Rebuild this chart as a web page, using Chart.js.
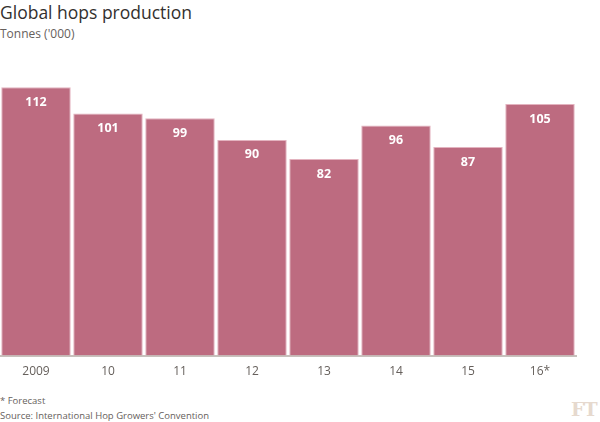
<!DOCTYPE html>
<html>
<head>
<meta charset="utf-8">
<script src="https://cdn.jsdelivr.net/npm/chart.js@4"></script>
<style>
  body { margin: 0; background: #fff; font-family: "Open Sans", sans-serif; }
  #wrap { position: relative; width: 600px; height: 422px; overflow: hidden; }
  #titulo { position: absolute; left: 0; top: 0px; font-size: 17.5px; color: #33302e; }
  #subtitulo { position: absolute; left: 0; top: 25px; font-size: 12px; color: #66605c; }
  #nota { position: absolute; left: 0; top: 394px; font-size: 9.5px; color: #66605c; }
  #fuente { position: absolute; left: 0; top: 409px; font-size: 9.5px; color: #66605c; }
  #logo { position: absolute; left: 571px; top: 398px; font-family: "DejaVu Serif", serif; font-weight: bold; font-size: 19px; color: #e6d9ce; letter-spacing: -1px; }
  #lienzo { position: absolute; left: 0; top: 50px; width: 600px; height: 330px; }
</style>
</head>
<body>
<div id="wrap">
  <div id="titulo">Global hops production</div>
  <div id="subtitulo">Tonnes ('000)</div>
  <div id="lienzo"><canvas id="grafica"></canvas></div>
  <div id="nota">* Forecast</div>
  <div id="fuente">Source: International Hop Growers' Convention</div>
  <div id="logo">FT</div>
</div>
<script>
const anios = ['2009', '10', '11', '12', '13', '14', '15', '16*'];
const produccion = [112, 101, 99, 90, 82, 96, 87, 105];
const ejeMax = 120;

// etiquetas blancas dentro de cada barra
const etiquetasBarras = {
  id: 'etiquetasBarras',
  afterDatasetsDraw(chart) {
    const ctx = chart.ctx;
    const meta = chart.getDatasetMeta(0);
    ctx.save();
    ctx.fillStyle = '#ffffff';
    ctx.font = 'bold 12.5px "Open Sans", sans-serif';
    ctx.textAlign = 'center';
    ctx.textBaseline = 'middle';
    meta.data.forEach((barra, i) => {
      ctx.fillText(produccion[i], barra.x, barra.y + 15);
    });
    ctx.restore();
  }
};

new Chart(document.getElementById('grafica'), {
  type: 'bar',
  data: {
    labels: anios,
    datasets: [{
      data: produccion,
      backgroundColor: '#bd6b80',
      borderColor: '#e3b3bf',
      borderWidth: 1,
      categoryPercentage: 1,
      barPercentage: 0.965
    }]
  },
  options: {
    responsive: true,
    maintainAspectRatio: false,
    animation: false,
    layout: { padding: { left: 0, right: 24, top: 18, bottom: 0 } },
    plugins: {
      legend: { display: false },
      tooltip: { enabled: false }
    },
    scales: {
      x: {
        grid: { display: false },
        border: { color: '#c7c1bc', width: 2 },
        ticks: {
          color: '#66605c',
          font: { family: '"Open Sans", sans-serif', size: 12 },
          padding: 1
        }
      },
      y: {
        display: false,
        min: 0,
        max: ejeMax
      }
    }
  },
  plugins: [etiquetasBarras]
});
</script>
</body>
</html>
